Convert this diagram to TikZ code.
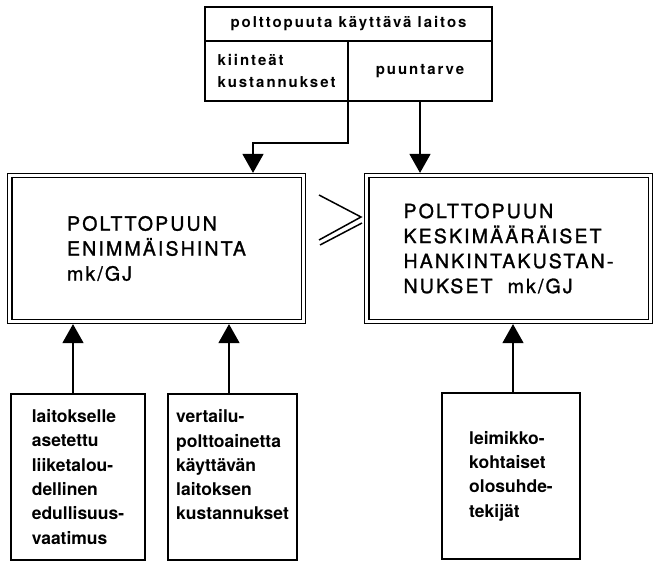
\documentclass[tikz,border=0pt]{standalone}
\usepackage{fontspec}
\setmainfont{TeX Gyre Heros}
\newfontfamily\spacedfont[LetterSpace=13]{TeX Gyre Heros Bold}
\newfontfamily\capsfont[LetterSpace=11, FakeBold=1.3]{TeX Gyre Heros}
\usetikzlibrary{positioning,arrows.meta,calc}

\begin{document}
\begin{tikzpicture}[x=1pt, y=-1pt,
  >={Triangle[width=21pt,length=19pt]},
  cell/.style={draw, line width=1.5pt, inner sep=0pt, outer sep=0pt, align=left, font=\spacedfont\fontsize{15}{22}\selectfont},
  bigbox/.style={draw, double, double distance=3pt, line width=1.3pt, outer sep=2.8pt, minimum height=145.6pt, align=left, font=\capsfont\fontsize{19.5}{25}\selectfont},
  factor/.style={draw, line width=1.5pt, minimum height=166pt, align=left, font=\bfseries\fontsize{17.5}{24.3}\selectfont},
  arr/.style={->, line width=1.5pt},
  geq/.style={line width=1.5pt},
]
\useasboundingbox (0,0) rectangle (655,561);

% plant using fuelwood (top)
\node[cell, minimum width=287pt, minimum height=34pt] (hdr) at (348.5,24) {polttopuuta käyttävä laitos};
\node[cell, minimum width=143pt, minimum height=60pt, below right=0pt of hdr.south west] (kf) {kiinteät\\kustannukset};
\node[cell, minimum width=144pt, minimum height=60pt, below left=0pt of hdr.south east] (pt) {puuntarve};

% price and cost (middle)
\node[bigbox, minimum width=293.6pt] (maxp) at (156.5,248.5) {POLTTOPUUN\\ENIMMÄISHINTA\\mk/GJ};
\node[bigbox, minimum width=283.6pt] (cost) at (508.5,248.5) {POLTTOPUUN\\KESKIMÄÄRÄISET\\HANKINTAKUSTAN-\\NUKSET~~mk/GJ};
\draw[geq] (319,195) -- (361,217) -- (319,240);
\draw[geq] (320,245) -- (362,223);

% factors (bottom)
\node[factor, minimum width=134pt] (req) at (78,477) {laitokselle\\asetettu\\liiketalou-\\dellinen\\edullisuus-\\vaatimus};
\node[factor, minimum width=129pt] (alt) at (232.5,477) {vertailu-\\polttoainetta\\käyttävän\\laitoksen\\kustannukset\\\mbox{}};
\node[factor, minimum width=138pt] (site) at (511,476) {leimikko-\\kohtaiset\\olosuhde-\\tekijät};

\coordinate (bend) at (253,143);
\draw[arr] (kf.south east) |- (bend) -- (bend |- maxp.north);
\draw[arr] (pt.south) -- (pt.south |- cost.north);
\draw[arr] ([xshift=-5pt]req.north) -- ([xshift=-5pt]req.north |- maxp.south);
\draw[arr] ([xshift=-3.5pt]alt.north) -- ([xshift=-3.5pt]alt.north |- maxp.south);
\draw[arr] ([xshift=2pt]site.north) -- ([xshift=2pt]site.north |- cost.south);
\end{tikzpicture}
\end{document}
